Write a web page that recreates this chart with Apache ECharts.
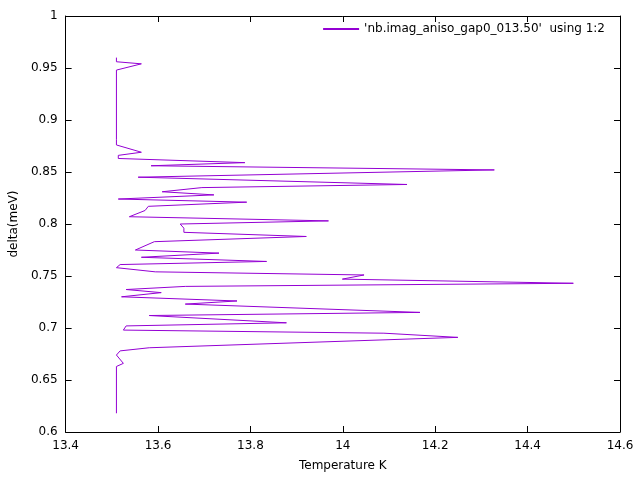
<!DOCTYPE html>
<html><head><meta charset="utf-8">
<script src="https://cdn.jsdelivr.net/npm/echarts@6/dist/echarts.min.js"></script>
<style>html,body{margin:0;background:#fff}#chart{width:640px;height:480px}</style>
</head><body><div id="chart"></div>
<script>
const temperature = [13.510,13.510,13.564,13.510,13.510,13.510,13.564,13.514,13.514,13.788,13.585,14.328,13.557,14.139,13.695,13.609,13.721,13.514,13.792,13.579,13.572,13.538,13.969,13.648,13.656,13.656,13.921,13.592,13.551,13.732,13.564,13.835,13.518,13.510,13.594,14.046,13.999,14.499,13.659,13.531,13.607,13.521,13.771,13.659,14.167,13.581,13.878,13.531,13.525,14.089,14.249,13.581,13.518,13.510,13.525,13.510,13.510];
const delta = [0.960,0.956,0.954,0.948,0.881,0.876,0.869,0.866,0.863,0.859,0.856,0.852,0.845,0.838,0.835,0.831,0.828,0.824,0.821,0.817,0.813,0.807,0.803,0.800,0.796,0.792,0.788,0.783,0.775,0.772,0.768,0.764,0.761,0.758,0.754,0.751,0.747,0.743,0.740,0.737,0.734,0.730,0.726,0.723,0.715,0.712,0.705,0.702,0.698,0.695,0.691,0.681,0.678,0.674,0.666,0.663,0.618];
const seriesName = "'nb.imag_aniso_gap0_013.50'  using 1:2";

const chart = echarts.init(document.getElementById('chart'));
const font = 'DejaVu Sans';
const axisCommon = {
	axisLine: { show: true, lineStyle: { color: '#000' } },
	axisTick: { inside: true, length: 6, lineStyle: { color: '#000' } },
	splitLine: { show: false },
	axisLabel: { color: '#000', fontFamily: font, fontSize: 12 }
};
chart.setOption({
	animation: false,
	textStyle: { fontFamily: font },
	grid: { left: 63, right: 20, top: 16, bottom: 48 },
	legend: {
		right: 30, top: 18, itemWidth: 36, itemHeight: 2, itemGap: 8,
		icon: 'rect', align: 'left',
		textStyle: { fontFamily: font, fontSize: 12, color: '#000' },
		data: [seriesName]
	},
	xAxis: [
		Object.assign({ type: 'value', min: 13.4, max: 14.6, interval: 0.2, name: 'Temperature K',
			nameLocation: 'middle', nameGap: 28, nameTextStyle: { color: '#000', fontFamily: font, fontSize: 12 },
			axisLabel: { color: '#000', fontFamily: font, fontSize: 12, margin: 8,
				formatter: v => Math.abs(v - Math.round(v)) < 1e-9 ? String(Math.round(v)) : v.toFixed(1) } }, {
			axisLine: axisCommon.axisLine, axisTick: axisCommon.axisTick, splitLine: axisCommon.splitLine }),
		Object.assign({ type: 'value', position: 'top', min: 13.4, max: 14.6, interval: 0.2 }, axisCommon, { axisLabel: { show: false } })
	],
	yAxis: [
		Object.assign({ type: 'value', min: 0.6, max: 1, interval: 0.05, name: 'delta(meV)',
			nameLocation: 'middle', nameGap: 44, nameTextStyle: { color: '#000', fontFamily: font, fontSize: 12 } }, axisCommon, {
			axisLabel: { color: '#000', fontFamily: font, fontSize: 12,
				formatter: v => Math.abs(v - Math.round(v)) < 1e-9 ? String(Math.round(v)) : String(+v.toFixed(2)) } }),
		Object.assign({ type: 'value', position: 'right', min: 0.6, max: 1, interval: 0.05 }, axisCommon, { axisLabel: { show: false } })
	],
	series: [{
		name: seriesName, type: 'line', symbol: 'none',
		lineStyle: { color: '#9400d3', width: 1 }, itemStyle: { color: '#9400d3' },
		data: temperature.map((t, i) => [t, delta[i]])
	}]
});
</script></body></html>
